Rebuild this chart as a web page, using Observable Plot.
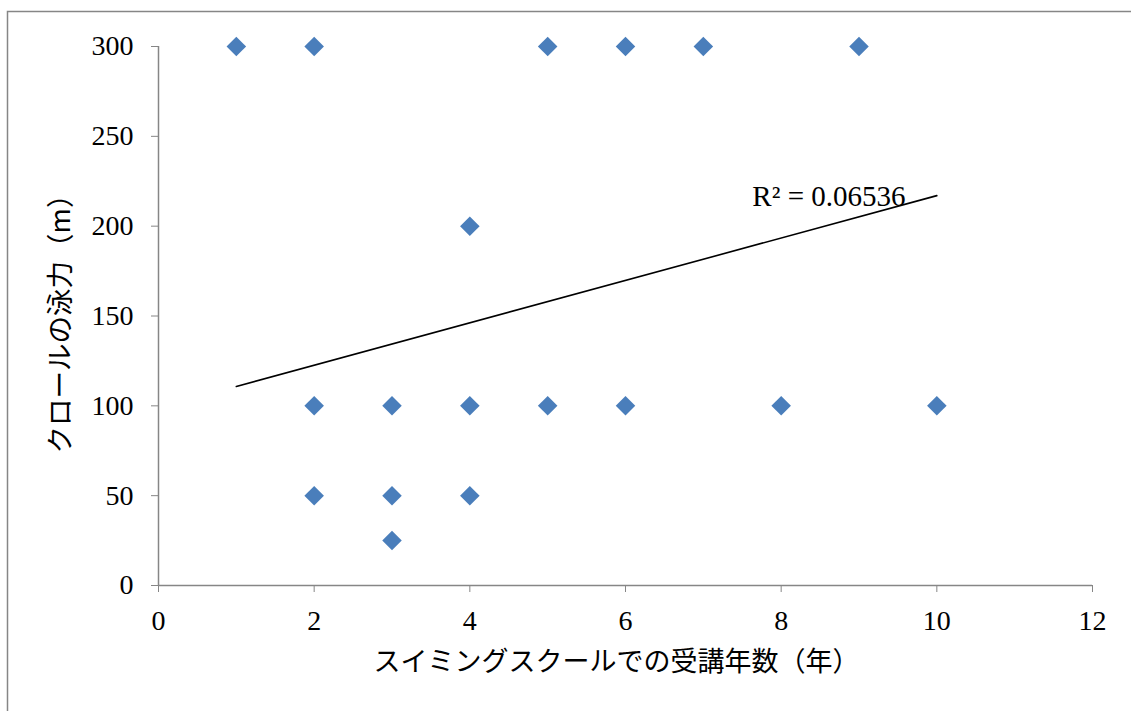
<!DOCTYPE html>
<html>
<head>
<meta charset="utf-8">
<script src="https://cdn.jsdelivr.net/npm/d3@7"></script>
<script src="https://cdn.jsdelivr.net/npm/@observablehq/plot@0.6"></script>
<style>
  html, body { margin: 0; padding: 0; background: #fff; }
  #chart { position: relative; width: 1131px; height: 711px; overflow: hidden; }
</style>
</head>
<body>
<div id="chart"></div>
<script>
// Data
const years = [1, 2, 5, 6, 7, 9, 4, 2, 3, 4, 5, 6, 8, 10, 2, 3, 4, 3];
const distance = [300, 300, 300, 300, 300, 300, 200, 100, 100, 100, 100, 100, 100, 100, 50, 50, 50, 25];
const trendX = [1, 10];
const trendY = [110.8, 217];
const xTicks = [0, 2, 4, 6, 8, 10, 12];
const yTicks = [0, 50, 100, 150, 200, 250, 300];
const r2Label = "R² = 0.06536";
const xLabel = "スイミングスクールでの受講年数（年）";
const yLabel = "クロールの泳力（m）";

const points = years.map((x, i) => ({x, y: distance[i]}));
const trend = trendX.map((x, i) => ({x, y: trendY[i]}));

const axisColor = "#868686";
const serif = "'Liberation Serif', 'DejaVu Serif', serif";
const jp = "'Noto Sans CJK JP', sans-serif";

const plot = Plot.plot({
  width: 1131,
  height: 711,
  marginLeft: 158,
  marginRight: 39,
  marginTop: 46,
  marginBottom: 126,
  style: {background: "#fff", fontFamily: serif},
  x: {domain: [0, 12]},
  y: {domain: [0, 300]},
  marks: [
    Plot.axisY({ticks: yTicks, tickSize: 7, tickPadding: 18, stroke: axisColor, fill: "#000", fontSize: 28, label: null, tickFormat: d => d}),
    Plot.axisX({ticks: xTicks, tickSize: 7, tickPadding: 18, stroke: axisColor, fill: "#000", fontSize: 28, label: null, tickFormat: d => d}),
    Plot.ruleX([0], {stroke: axisColor, strokeWidth: 1.5}),
    Plot.ruleY([0], {stroke: axisColor, strokeWidth: 1.5}),
    Plot.line(trend, {x: "x", y: "y", stroke: "#000", strokeWidth: 1.6}),
    Plot.dot(points, {x: "x", y: "y", symbol: "diamond2", r: 8.8, fill: "#4a7ebb", stroke: "none"}),
    Plot.text([r2Label], {x: 7.63, y: 216.5, text: d => d, fontSize: 29, fill: "#000", fontFamily: serif, textAnchor: "start", lineAnchor: "middle"}),
    Plot.text([xLabel], {frameAnchor: "bottom", text: d => d, fontSize: 27, fontFamily: jp, fill: "#000", textAnchor: "middle", dy: 85, dx: -9}),
    Plot.text([yLabel], {frameAnchor: "left", text: d => d, fontSize: 27.5, fontFamily: jp, fill: "#000", textAnchor: "middle", rotate: -90, dx: -97, dy: 1})
  ]
});

d3.select(plot).append("rect")
  .attr("x", 7.5).attr("y", 11.5)
  .attr("width", 1200).attr("height", 800)
  .attr("fill", "none").attr("stroke", axisColor).attr("stroke-width", 1.5);

document.getElementById("chart").appendChild(plot);
</script>
</body>
</html>
